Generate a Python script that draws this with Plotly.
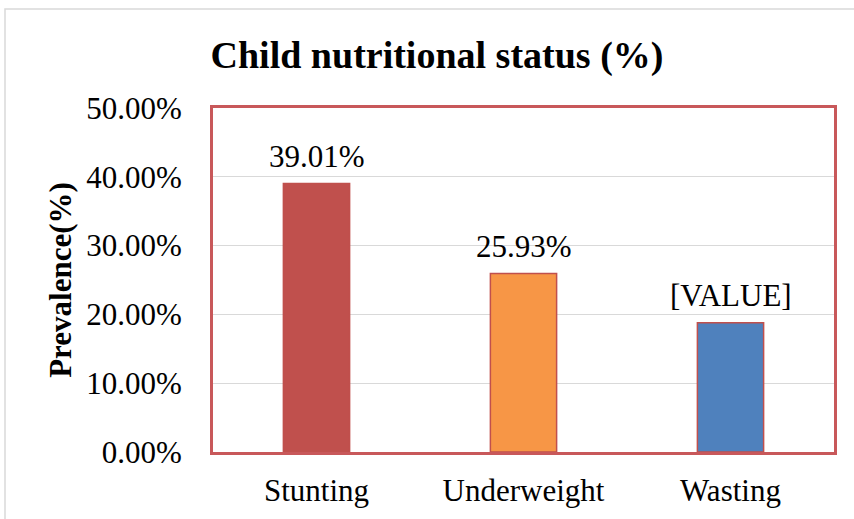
import plotly.graph_objects as go

categories = ["Stunting", "Underweight", "Wasting"]
values = [39.01, 25.93, 18.8]
labels = ["39.01%", "25.93%", "[VALUE]"]
colors = ["#C0504D", "#F79646", "#4F81BD"]
y_ticks = [0, 10, 20, 30, 40, 50]
y_tick_labels = ["0.00%", "10.00%", "20.00%", "30.00%", "40.00%", "50.00%"]

FONT = "Liberation Serif, Times New Roman, serif"
FS = 31

fig = go.Figure()
fig.add_trace(go.Bar(
    x=categories, y=values,
    marker=dict(color=colors, line=dict(color="#C0504D", width=1.5)),
    width=0.32,
    hoverinfo="skip",
))

for c, v, t in zip(categories, values, labels):
    fig.add_annotation(x=c, y=v, text=t, showarrow=False, yanchor="bottom",
                       yshift=8, font=dict(family=FONT, size=FS, color="#000000"))

# outer light gray frame
fig.add_shape(type="rect", xref="paper", yref="paper",
              x0=(5 - 213) / 621, x1=1.2, y0=-0.4, y1=(452 - 9) / 344,
              line=dict(color="#D9D9D9", width=1.5), fillcolor="rgba(0,0,0,0)", layer="below")

fig.update_layout(
    width=854, height=519,
    margin=dict(l=213, r=20, t=108, b=67, autoexpand=False),
    paper_bgcolor="white", plot_bgcolor="white",
    showlegend=False,
    title=dict(text="<b>Child nutritional status (%)</b>", x=437 / 854, xanchor="center",
               y=1 - 55 / 519, yanchor="middle",
               font=dict(family=FONT, size=38, color="#000000")),
    font=dict(family=FONT, size=FS, color="#000000"),
)
fig.update_xaxes(showline=True, linecolor="#C8585A", linewidth=3, mirror=True,
                 ticks="", tickfont=dict(family=FONT, size=FS), showgrid=False,
                 ticklabelstandoff=9)
fig.update_yaxes(range=[0, 50], tickvals=y_ticks, ticktext=y_tick_labels,
                 showline=True, linecolor="#C8585A", linewidth=3, mirror=True,
                 gridcolor="#D9D9D9", gridwidth=1, zeroline=False,
                 ticks="", ticklen=0, tickfont=dict(family=FONT, size=FS),
                 ticklabelstandoff=22,
                 title=dict(text="<b>Prevalence(%)</b>", standoff=6,
                            font=dict(family=FONT, size=FS)))
fig.write_html("out.html", config={"displayModeBar": False},
               post_script="document.body.style.margin='0px';")
